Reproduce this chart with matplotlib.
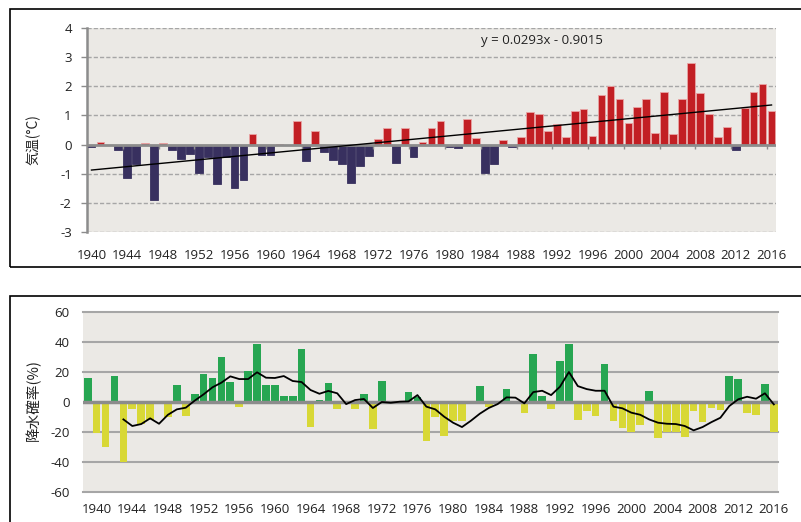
import numpy as np
import matplotlib
matplotlib.use('Agg')
import matplotlib.pyplot as plt
from matplotlib.patches import Rectangle

plt.rcParams['font.family'] = ['Open Sans', 'Noto Sans CJK JP', 'DejaVu Sans']
plt.rcParams['axes.unicode_minus'] = False

# 気温偏差 (1940-2016)
temp_years = list(range(1940, 2017))
temp_anom = [
    -0.10, 0.10, 0.00, -0.18, -1.13, -0.66, 0.05, -1.89, 0.05, -0.20,
    -0.49, -0.32, -0.97, -0.44, -1.36, -0.42, -1.50, -1.23, 0.36, -0.37,
    -0.37, 0.03, 0.00, 0.80, -0.57, 0.45, -0.26, -0.53, -0.67, -1.32,
    -0.74, -0.40, 0.19, 0.55, -0.64, 0.55, -0.43, 0.10, 0.58, 0.82,
    -0.09, -0.12, 0.88, 0.23, -0.98, -0.67, 0.15, -0.09, 0.27, 1.13,
    1.06, 0.47, 0.72, 0.26, 1.14, 1.20, 0.30, 1.69, 2.02, 1.56,
    0.73, 1.27, 1.56, 0.40, 1.80, 0.36, 1.56, 2.78, 1.77, 1.03,
    0.26, 0.60, -0.17, 1.26, 1.80, 2.08, 1.16]
trend_slope = 0.0293
trend_icpt = -0.9015

# 降水確率 (bars) and its running mean
rain_years = list(range(1939, 2017))
rain = [
    15.8, -21.0, -30.0, 17.0, -40.0, -4.7, -15.0, -12.0, 0.0, -10.0,
    11.0, -9.5, 5.0, 18.4, 15.8, 29.8, 13.0, -3.5, 20.4, 38.4,
    11.0, 11.0, 3.8, 3.8, 35.0, -17.0, 1.0, 12.4, -4.9, -1.0,
    -4.9, 5.0, -18.0, 13.8, -1.3, 0.0, 6.4, 3.2, -26.4, -10.0,
    -23.0, -12.7, -12.7, 0.0, 10.4, -3.3, 0.0, 8.4, -1.0, -7.8,
    32.0, 3.8, -4.7, 27.0, 38.7, -12.2, -6.2, -9.5, 25.0, -12.9,
    -17.3, -20.0, -15.3, 7.0, -24.0, -20.4, -20.4, -23.8, -6.2, -13.3,
    -4.0, -5.6, 17.1, 15.1, -7.6, -8.9, 11.8, -20.0]
rain_mean = [
    np.nan, np.nan, np.nan, np.nan, -11.8, -16.2, -14.9, -11.1, -14.7, -8.7,
    -5.1, -4.0, 0.7, 4.9, 9.6, 12.7, 16.9, 15.1, 15.1, 19.6,
    16.0, 15.8, 17.1, 13.8, 13.1, 7.8, 5.3, 7.2, 5.6, -1.6,
    1.1, 1.8, -4.2, -0.2, -0.7, 0.0, 0.2, 4.4, -3.3, -5.1,
    -10.0, -14.0, -16.9, -12.7, -8.0, -4.2, -1.6, 2.9, 2.7, -1.1,
    6.4, 7.3, 4.4, 10.0, 19.8, 10.4, 8.4, 7.3, 7.3, -3.3,
    -4.4, -7.3, -8.7, -11.8, -14.0, -14.7, -14.9, -16.2, -19.1, -16.9,
    -13.6, -10.7, -2.9, 1.6, 3.3, 2.0, 5.6, -1.8]

label_years = list(range(1940, 2017, 4))

W, H = 801, 522
fig = plt.figure(figsize=(W / 100, H / 100), dpi=100)


def px_axes(left, top, right, bottom):
    return fig.add_axes([left / W, 1 - bottom / H, (right - left) / W, (bottom - top) / H])


bg = '#ebe9e5'
grid_c = '#a6a6a6'
axis_c = '#8c8c8c'
text_c = '#222222'

# outer frames of the two panels
fig.add_artist(Rectangle((10 / W, 1 - 267 / H), 820 / W, 258 / H,
                         transform=fig.transFigure, fill=False, ec='black', lw=1.2))
fig.add_artist(Rectangle((10 / W, 1 - 540 / H), 820 / W, 244 / H,
                         transform=fig.transFigure, fill=False, ec='black', lw=1.2))

# ---- temperature ----
ax1 = px_axes(87, 27.7, 776, 232.2)
ax1.set_facecolor(bg)
t_cols = ['#c21f24' if v >= 0 else '#38305f' for v in temp_anom]
t_edges = ['#e9a5a5' if v >= 0 else '#38305f' for v in temp_anom]
ax1.bar(temp_years, temp_anom, width=0.86, color=t_cols, edgecolor=t_edges, linewidth=0.6, zorder=3)
for y in range(-3, 5):
    if y != 0:
        ax1.axhline(y, color=grid_c, lw=1, ls=(0, (3, 1.5)), zorder=1)
ax1.axhline(0, color=axis_c, lw=2, zorder=4)
ax1.vlines([y - 0.5 for y in label_years], -0.14, 0, color=axis_c, lw=1, zorder=4)

idx = np.arange(1, len(temp_years) + 1)
ax1.plot(temp_years, trend_slope * idx + trend_icpt, color='black', lw=1, zorder=5)
ax1.text(0.572, 0.936, 'y = 0.0293x - 0.9015', transform=ax1.transAxes,
         fontsize=9.5, color=text_c, va='center', ha='left')

ax1.set_xlim(1939.5, 2016.5)
ax1.set_ylim(-3, 4)
ax1.set_yticks(range(-3, 5))
ax1.set_xticks(label_years)
ax1.tick_params(axis='x', length=0, pad=12, labelsize=9.5, labelcolor=text_c)
ax1.tick_params(axis='y', length=4, width=1, color=axis_c, pad=7, labelsize=9.5, labelcolor=text_c)
for s in ['top', 'right', 'bottom']:
    ax1.spines[s].set_visible(False)
ax1.spines['left'].set_color(axis_c)
ax1.spines['left'].set_linewidth(1.8)
fig.text(33 / W, 1 - 140 / H, '気温(°C)', rotation=90, ha='center', va='center',
         fontsize=10, color=text_c, family=['Noto Sans CJK JP', 'DejaVu Sans'])

# ---- precipitation ----
ax2 = px_axes(83.3, 311.7, 778.3, 491.7)
ax2.set_facecolor(bg)
r_cols = ['#27a652' if v > 0 else '#d8d836' for v in rain]
ax2.bar(rain_years, rain, width=0.86, color=r_cols, zorder=3)
for y in range(-60, 61, 20):
    if y != 0:
        ax2.axhline(y, color=grid_c, lw=1.5, zorder=1, clip_on=False)
ax2.axhline(0, color=axis_c, lw=2.5, zorder=4)
ax2.plot(rain_years, rain_mean, color='black', lw=1.3, zorder=5)

ax2.set_xlim(1938.5, 2016.5)
ax2.set_ylim(-60, 60)
ax2.set_yticks(range(-60, 61, 20))
ax2.set_xticks(label_years)
ax2.tick_params(axis='x', length=0, pad=8, labelsize=9.5, labelcolor=text_c)
ax2.tick_params(axis='y', length=0, pad=10, labelsize=9.5, labelcolor=text_c)
for s in ax2.spines.values():
    s.set_visible(False)
fig.text(33 / W, 1 - 400 / H, '降水確率(%)', rotation=90, ha='center', va='center',
         fontsize=10.5, color=text_c, family=['Noto Sans CJK JP', 'DejaVu Sans'])

fig.savefig('out.png', dpi=100, facecolor='white')
